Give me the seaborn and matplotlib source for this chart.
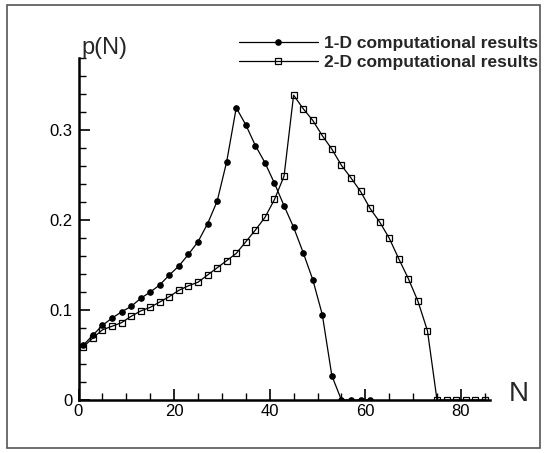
import matplotlib
matplotlib.use("Agg")
import matplotlib.pyplot as plt
import seaborn as sns
import pandas as pd
from matplotlib.ticker import MultipleLocator, FixedLocator, FixedFormatter
from matplotlib.patches import Rectangle

# ---- data ----
n_1d = [1, 3, 5, 7, 9, 11, 13, 15, 17, 19, 21, 23, 25, 27, 29, 31, 33,
        35, 37, 39, 41, 43, 45, 47, 49, 51, 53, 55, 57, 59, 61]
p_1d = [0.061, 0.072, 0.083, 0.091, 0.098, 0.104, 0.113, 0.120, 0.128, 0.139,
        0.149, 0.162, 0.176, 0.196, 0.221, 0.265, 0.325,
        0.306, 0.283, 0.264, 0.241, 0.216, 0.192, 0.164, 0.134, 0.095, 0.027,
        0.0, 0.0, 0.0, 0.0]

n_2d = [1, 3, 5, 7, 9, 11, 13, 15, 17, 19, 21, 23, 25, 27, 29, 31, 33, 35, 37,
        39, 41, 43, 45, 47, 49, 51, 53, 55, 57, 59, 61, 63, 65, 67, 69, 71, 73,
        75, 77, 79, 81, 83, 85]
p_2d = [0.059, 0.069, 0.078, 0.082, 0.086, 0.093, 0.099, 0.103, 0.109, 0.115,
        0.122, 0.127, 0.131, 0.139, 0.147, 0.155, 0.163, 0.176, 0.189,
        0.203, 0.223, 0.249, 0.339, 0.324, 0.311, 0.294, 0.279, 0.261, 0.247,
        0.232, 0.213, 0.198, 0.180, 0.157, 0.135, 0.110, 0.077,
        0.0, 0.0, 0.0, 0.0, 0.0, 0.0]

label_1d = "1-D computational results"
label_2d = "2-D computational results"
x_major = [0, 20, 40, 60, 80]
y_major = [0, 0.1, 0.2, 0.3]
y_labels = ["0", "0.1", "0.2", "0.3"]

df1 = pd.DataFrame({"N": n_1d, "p": p_1d})
df2 = pd.DataFrame({"N": n_2d, "p": p_2d})

sns.set_style("ticks")
plt.rcParams["font.family"] = ["Liberation Sans", "DejaVu Sans"]

W, H = 545, 453
fig = plt.figure(figsize=(W / 100, H / 100), dpi=100)
ax = fig.add_axes([78.5 / W, (H - 400) / H, (489.6 - 78.5) / W, (400 - 58.3) / H])

sns.lineplot(data=df1, x="N", y="p", ax=ax, color="black", linewidth=0.9,
             marker="o", markersize=4, markerfacecolor="black",
             markeredgecolor="black", label=label_1d, sort=False)
sns.lineplot(data=df2, x="N", y="p", ax=ax, color="black", linewidth=0.9,
             marker="s", markersize=5, markerfacecolor="none",
             markeredgecolor="black", markeredgewidth=0.9, label=label_2d,
             sort=False)

ax.set_xlim(0, 86)
ax.set_ylim(0, 0.38)
ax.set_xlabel("")
ax.set_ylabel("")

ax.xaxis.set_major_locator(FixedLocator(x_major))
ax.xaxis.set_minor_locator(MultipleLocator(5))
ax.yaxis.set_major_locator(FixedLocator(y_major))
ax.yaxis.set_major_formatter(FixedFormatter(y_labels))
ax.yaxis.set_minor_locator(MultipleLocator(0.02))

for s in ["top", "right"]:
    ax.spines[s].set_visible(False)
for s in ["left", "bottom"]:
    ax.spines[s].set_linewidth(1.8)
    ax.spines[s].set_color("black")

ax.tick_params(axis="both", which="major", direction="in", length=8, width=1.2,
               labelsize=12, colors="black")
ax.tick_params(axis="both", which="minor", direction="in", length=5, width=1.0,
               colors="black")
ax.tick_params(axis="x", which="major", pad=3)
ax.tick_params(axis="y", which="major", pad=4.5)

leg = ax.legend(loc="upper right", bbox_to_anchor=(538 / W, (H - 36) / H),
                bbox_transform=fig.transFigure, frameon=False,
                handlelength=4.55, handletextpad=0.35, labelspacing=0.21,
                borderaxespad=0, borderpad=0,
                prop={"weight": "bold", "size": 12.5})

fig.text(81 / W, (H - 48) / H, "p(N)", fontsize=17, ha="left", va="center")
fig.text(519 / W, (H - 394) / H, "N", fontsize=20, ha="center", va="center")

fig.patches.append(Rectangle((7 / W, 5 / H), (540 - 7) / W, (448 - 5) / H,
                             transform=fig.transFigure, fill=False,
                             edgecolor="#555555", linewidth=1.2))

fig.savefig("out.png", dpi=100)
